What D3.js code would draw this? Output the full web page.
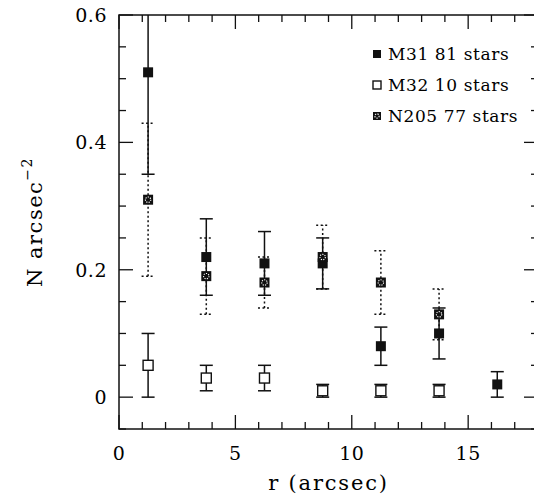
<!DOCTYPE html>
<html>
<head>
<meta charset="utf-8">
<script src="https://cdn.jsdelivr.net/npm/d3@7"></script>
<style>
  body { margin: 0; background: #fff; }
  text { font-family: "DejaVu Serif", serif; fill: #000; }
</style>
</head>
<body>
<div id="chart"></div>
<script>
// radial bins (arcsec)
const radius = [1.25, 3.75, 6.25, 8.75, 11.25, 13.75, 16.25];

// M31 81 stars
const m31Density = [0.51, 0.22, 0.21, 0.21, 0.08, 0.10, 0.02];
const m31Error = [0.16, 0.06, 0.05, 0.04, 0.03, 0.04, 0.02];

// M32 10 stars
const m32Density = [0.05, 0.03, 0.03, 0.01, 0.01, 0.01];
const m32Error = [0.05, 0.02, 0.02, 0.01, 0.01, 0.01];

// N205 77 stars
const n205Density = [0.31, 0.19, 0.18, 0.22, 0.18, 0.13];
const n205Error = [0.12, 0.06, 0.04, 0.05, 0.05, 0.04];

const legendLabels = ["M31 81 stars", "M32 10 stars", "N205 77 stars"];
const xTickLabels = [0, 5, 10, 15];
const yTickLabels = [0, 0.2, 0.4, 0.6];

const series = [
  { name: "m31", values: m31Density, errors: m31Error, dashed: false },
  { name: "n205", values: n205Density, errors: n205Error, dashed: true },
  { name: "m32", values: m32Density, errors: m32Error, dashed: false },
];

const W = 534, H = 499;
const margin = { top: 15, right: -4, bottom: 70, left: 119 };
const width = W - margin.left - margin.right;
const height = H - margin.top - margin.bottom;

const svg = d3.select("#chart").append("svg")
  .attr("width", W).attr("height", H);

const g = svg.append("g")
  .attr("transform", `translate(${margin.left},${margin.top})`);

const x = d3.scaleLinear().domain([0, 18]).range([0, width]);
const y = d3.scaleLinear().domain([-0.05, 0.6]).range([height, 0]);

g.append("clipPath").attr("id", "plotclip")
  .append("rect").attr("width", width).attr("height", height);

// frame
g.append("rect")
  .attr("width", width).attr("height", height)
  .attr("fill", "none").attr("stroke", "#111").attr("stroke-width", 1.5);

// ticks: major long, minor short, on all four sides
const major = 14, minor = 7;
const xMinor = d3.range(0, 19, 1);
const yMinor = d3.range(-0.05, 0.601, 0.05).map(v => +v.toFixed(2));
const isMajorX = v => v % 5 === 0;
const isMajorY = v => Math.abs(Math.round(v * 100) % 20) === 0;

const ticks = g.append("g").attr("stroke", "#111").attr("stroke-width", 1.3);
xMinor.forEach(v => {
  const len = isMajorX(v) ? major : minor;
  ticks.append("line").attr("x1", x(v)).attr("x2", x(v))
    .attr("y1", height).attr("y2", height - len);
  ticks.append("line").attr("x1", x(v)).attr("x2", x(v))
    .attr("y1", 0).attr("y2", len);
});
yMinor.forEach(v => {
  const len = isMajorY(v) ? major : minor;
  ticks.append("line").attr("y1", y(v)).attr("y2", y(v))
    .attr("x1", 0).attr("x2", len);
  ticks.append("line").attr("y1", y(v)).attr("y2", y(v))
    .attr("x1", width).attr("x2", width - len);
});

// tick labels
g.selectAll(".xlab").data(xTickLabels).join("text")
  .attr("x", d => x(d)).attr("y", height + 31)
  .attr("text-anchor", "middle").attr("font-size", 19)
  .attr("letter-spacing", 0.5)
  .text(d => d);

g.selectAll(".ylab").data(yTickLabels).join("text")
  .attr("x", -12).attr("y", d => y(d) + 7)
  .attr("text-anchor", "end").attr("font-size", 19)
  .attr("letter-spacing", 0.5)
  .text(d => d === 0 ? "0" : d.toFixed(1));

// axis titles, centred on the full axis
g.append("text")
  .attr("x", x(9)).attr("y", height + 61)
  .attr("text-anchor", "middle").attr("font-size", 21)
  .attr("letter-spacing", 1.8)
  .text("r (arcsec)");

const ylab = svg.append("text")
  .attr("transform", `translate(42,${margin.top + y(0.275)}) rotate(-90)`)
  .attr("text-anchor", "middle").attr("font-size", 21)
  .attr("letter-spacing", 1.5);
ylab.append("tspan").text("N arcsec");
ylab.append("tspan").attr("dy", -10).attr("font-size", 14).text("\u22122");

// error bars
const plot = g.append("g").attr("clip-path", "url(#plotclip)");
const cap = 6.5;
series.forEach(s => {
  const pts = s.values.map((v, i) => ({ r: radius[i], v: v, e: s.errors[i] }));
  const eb = plot.append("g")
    .attr("stroke", "#111").attr("stroke-width", 1.5)
    .attr("stroke-dasharray", s.dashed ? "2,2.5" : null);
  pts.forEach(p => {
    eb.append("line").attr("x1", x(p.r)).attr("x2", x(p.r))
      .attr("y1", y(p.v - p.e)).attr("y2", y(p.v + p.e));
    [p.v - p.e, p.v + p.e].forEach(c => {
      eb.append("line").attr("x1", x(p.r) - cap).attr("x2", x(p.r) + cap)
        .attr("y1", y(c)).attr("y2", y(c));
    });
  });
  s.pts = pts;
});

// markers
const sz = 10;
function marker(sel, kind, cx, cy, size) {
  if (kind === "m32") {
    sel.append("rect").attr("x", cx - size / 2).attr("y", cy - size / 2)
      .attr("width", size).attr("height", size)
      .attr("fill", "#fff").attr("stroke", "#111").attr("stroke-width", 1.4);
  } else {
    sel.append("rect").attr("x", cx - size / 2).attr("y", cy - size / 2)
      .attr("width", size).attr("height", size).attr("fill", "#111");
    if (kind === "n205") {
      sel.append("circle").attr("cx", cx).attr("cy", cy).attr("r", size * 0.27)
        .attr("fill", "none").attr("stroke", "#fff").attr("stroke-width", 1.1)
        .attr("stroke-dasharray", "1.2,1.2");
    }
  }
}
series.forEach(s => {
  const mg = plot.append("g");
  s.pts.forEach(p => marker(mg, s.name, x(p.r), y(p.v), sz));
});

// legend
const legendKinds = ["m31", "m32", "n205"];
legendLabels.forEach((lab, i) => {
  const ly = 60 + i * 31;
  marker(svg, legendKinds[i], 377, ly - 6, 8);
  svg.append("text").attr("x", 388).attr("y", ly)
    .attr("font-size", 17).attr("letter-spacing", 0.6).text(lab);
});
</script>
</body>
</html>
